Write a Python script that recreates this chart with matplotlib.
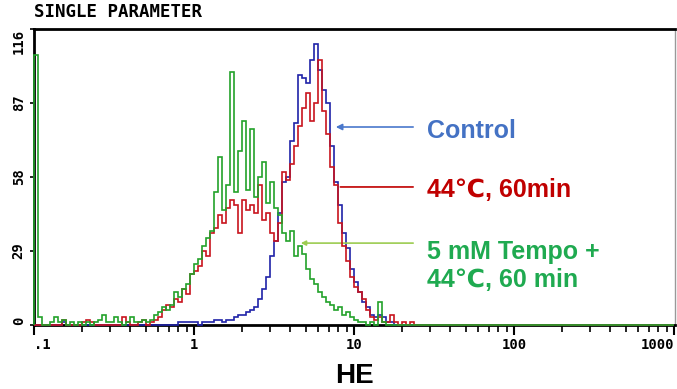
import numpy as np
import matplotlib.pyplot as plt
from matplotlib.ticker import LogLocator, NullFormatter

# Flow cytometry single-parameter histogram of HE fluorescence.
bin_edges = np.logspace(-1, 3, 161)

control = [0, 0, 0, 0, 0, 0, 0, 1, 0, 0,
           0, 0, 0, 0, 0, 0, 0, 0, 0, 0,
           0, 0, 0, 0, 0, 0, 0, 0, 0, 0,
           0, 0, 0, 0, 0, 0, 1, 1, 1, 1,
           1, 0, 1, 1, 1, 2, 2, 1, 2, 2,
           3, 4, 4, 5, 6, 7, 10, 14, 19, 27,
           33, 44, 56, 58, 72, 79, 98, 97, 95, 104,
           110, 100, 92, 87, 70, 56, 47, 36, 30, 22,
           17, 13, 9, 7, 4, 3, 4, 3, 1, 1] + [0] * 70

heat = [0, 0, 0, 0, 0, 0, 0, 2, 0, 0,
        0, 0, 1, 2, 1, 0, 0, 0, 0, 0,
        0, 0, 3, 1, 0, 0, 1, 2, 0, 1,
        2, 3, 6, 8, 7, 10, 9, 14, 12, 20,
        21, 23, 29, 27, 36, 38, 43, 40, 46, 49,
        47, 36, 49, 45, 47, 44, 55, 41, 44, 36,
        33, 40, 60, 57, 63, 70, 78, 85, 91, 80,
        87, 104, 84, 75, 62, 55, 40, 31, 25, 19,
        15, 13, 10, 6, 3, 2, 3, 1, 1, 4,
        1, 0, 1, 0, 1, 0, 0, 0, 0, 0] + [0] * 60

tempo = [106, 3, 0, 0, 1, 3, 1, 2, 0, 1,
         0, 1, 0, 1, 0, 1, 2, 4, 1, 1,
         3, 1, 0, 1, 3, 1, 1, 2, 1, 2,
         4, 5, 7, 6, 8, 13, 11, 14, 16, 20,
         24, 26, 31, 34, 37, 52, 66, 45, 55, 99,
         52, 68, 80, 53, 77, 50, 58, 64, 48, 56,
         46, 43, 36, 33, 37, 27, 31, 28, 22, 18,
         16, 13, 11, 9, 8, 6, 7, 4, 5, 3,
         2, 1, 1, 0, 1, 0, 9, 1, 0, 0] + [0] * 70

y_ticks = [0, 29, 58, 87, 116]
x_ticks = [0.1, 1, 10, 100, 1000]
x_tick_labels = ['.1', '1', '10', '100', '1000']

mono = 'DejaVu Sans Mono'
sans = ['Liberation Sans', 'DejaVu Sans']

fig = plt.figure(figsize=(6.77, 3.89), dpi=100)
ax = fig.add_axes([0.0502, 0.1645, 0.9468, 0.7609])

ax.stairs(control, bin_edges, color='#1f22a8', lw=1.2, clip_on=False, zorder=3)
ax.stairs(heat, bin_edges, color='#c8141e', lw=1.2, clip_on=False, zorder=4)
ax.stairs(tempo, bin_edges, color='#22a22a', lw=1.2, clip_on=False, zorder=5)

ax.set_xscale('log')
ax.set_xlim(0.1, 1015)
ax.set_ylim(0, 116)

ax.set_xticks(x_ticks)
ax.set_xticklabels(x_tick_labels, family=mono, weight='bold', fontsize=10)
ax.xaxis.set_minor_locator(LogLocator(base=10, subs=np.arange(2, 10)))
ax.xaxis.set_minor_formatter(NullFormatter())
ax.tick_params(axis='x', which='major', length=7, width=1.5, pad=2, direction='out')
ax.tick_params(axis='x', which='minor', length=5, width=1.2, direction='out')
labels = ax.get_xticklabels()
labels[0].set_ha('left')
labels[-1].set_ha('right')

ax.set_yticks(y_ticks)
ax.set_yticklabels([str(v) for v in y_ticks], family=mono, weight='bold', fontsize=10)
ax.tick_params(axis='y', length=3, width=1.2, pad=3)
for lab in ax.get_yticklabels():
    lab.set_rotation(90)
    lab.set_va('center')
ax.get_yticklabels()[0].set_va('bottom')
ax.get_yticklabels()[-1].set_va('top')

for side in ['left', 'top', 'bottom']:
    ax.spines[side].set_linewidth(2)
    ax.spines[side].set_color('black')
ax.spines['right'].set_color('#999999')
ax.spines['right'].set_linewidth(1)

fig.text(0.0502, 0.945, 'SINGLE PARAMETER', family=mono, weight='bold',
         fontsize=12.5, ha='left', va='bottom')
ax.set_xlabel('HE', family=sans, weight='bold', fontsize=20, labelpad=8)

# curve labels with leader lines
ax.annotate('', xy=(7.4, 77.6), xytext=(24.4, 77.6),
            arrowprops=dict(arrowstyle='-|>', color='#4a78cc', lw=1.2, mutation_scale=9))
ax.text(28.6, 76.0, 'Control', color='#4472c4', family=sans, weight='bold',
        fontsize=18, va='center', ha='left')

ax.annotate('', xy=(7.9, 54.1), xytext=(24.4, 54.1),
            arrowprops=dict(arrowstyle='-', color='#c00000', lw=1.2))
ax.text(28.6, 52.9, '44\u2103, 60min', color='#c00000', family=sans, weight='bold',
        fontsize=18, va='center', ha='left')

ax.annotate('', xy=(4.47, 32.1), xytext=(24.4, 32.1),
            arrowprops=dict(arrowstyle='-|>', color='#9ccc50', lw=1.2, mutation_scale=7))
ax.text(28.6, 28.6, '5 mM Tempo +', color='#1faa50', family=sans, weight='bold',
        fontsize=18, va='center', ha='left')
ax.text(28.6, 17.6, '44\u2103, 60 min', color='#1faa50', family=sans, weight='bold',
        fontsize=18, va='center', ha='left')

plt.savefig('out.png', dpi=100)
